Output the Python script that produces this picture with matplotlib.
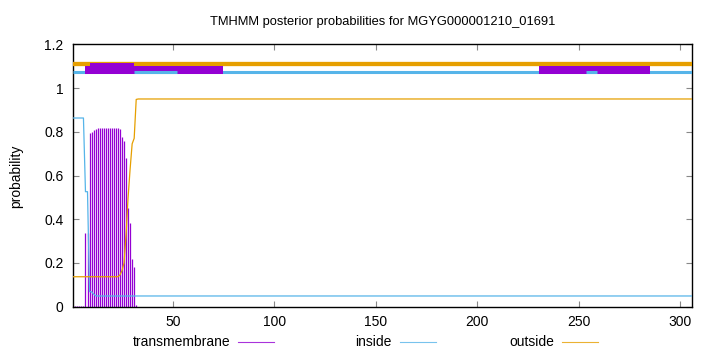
import matplotlib
matplotlib.use("Agg")
import matplotlib.pyplot as plt
from matplotlib.lines import Line2D
import numpy as np

plt.rcParams['font.family'] = ['Liberation Sans', 'DejaVu Sans']

seq_len = 306
title = "TMHMM posterior probabilities for MGYG000001210_01691"

# posterior probabilities, per residue (1-based)
inside_vals = [0.863, 0.863, 0.863, 0.863, 0.863, 0.863, 0.526, 0.526,
               0.069, 0.068, 0.058, 0.050] + [0.049] * (seq_len - 12)
outside_vals = [0.137] * 23 + [0.145, 0.165, 0.20, 0.33, 0.50, 0.63,
                               0.745, 0.77, 0.948] + [0.95] * (seq_len - 32)
tm_vals = [0.003] * 6 + [0.336, 0.336, 0.796, 0.80, 0.81, 0.811] + \
          [0.817] * 11 + [0.811, 0.775, 0.76, 0.68, 0.45, 0.381, 0.218,
                          0.183, 0.008] + [0.0] * (seq_len - 32)

# top topology bars: segments (start, end, low, high)
tm_seg_start = [7, 9, 31, 230.5]
tm_seg_end = [9, 31, 75, 285]
tm_seg_low = [1.066, 1.066, 1.066, 1.066]
tm_seg_high = [1.101, 1.115, 1.101, 1.101]
inside_bar_start = [1]
inside_bar_end = [306]
inside_over_start = [31, 253.5]
inside_over_end = [52, 259]
outside_bar_start = [1]
outside_bar_end = [306]

C_TM = '#9400d3'
C_IN = '#56b4e9'
C_OUT = '#e69f00'

fig = plt.figure(figsize=(7.2, 3.52), dpi=100)
ax = fig.add_axes([0.1018, 0.1287, 0.8597, 0.7454])

res = np.arange(1, seq_len + 1)
n = len(tm_vals)
ax.vlines(res[:n], 0, tm_vals, color=C_TM, lw=0.9, zorder=2)
ax.plot(res, inside_vals, color=C_IN, lw=0.9, zorder=3)
ax.plot(res, outside_vals, color=C_OUT, lw=0.9, zorder=3)

for s, e in zip(outside_bar_start, outside_bar_end):
    ax.plot([s, e], [1.11, 1.11], color=C_OUT, lw=3.1, solid_capstyle='butt', zorder=4)
for s, e in zip(inside_bar_start, inside_bar_end):
    ax.plot([s, e], [1.072, 1.072], color=C_IN, lw=2.2, solid_capstyle='butt', zorder=4)
for s, e, lo, hi in zip(tm_seg_start, tm_seg_end, tm_seg_low, tm_seg_high):
    ax.fill_between([s, e], [lo, lo], [hi, hi], color=C_TM, lw=0, zorder=5)
for s, e in zip(inside_over_start, inside_over_end):
    ax.plot([s, e], [1.072, 1.072], color=C_IN, lw=2.2, solid_capstyle='butt', zorder=6)

ax.set_xlim(1, seq_len)
ax.set_ylim(0, 1.2)
ax.set_xticks([50, 100, 150, 200, 250, 300])
ax.set_yticks([0, 0.2, 0.4, 0.6, 0.8, 1.0, 1.2])
ax.set_yticklabels(['0', '0.2', '0.4', '0.6', '0.8', '1', '1.2'])
ax.tick_params(direction='in', length=4, width=0.8, colors='#888888',
               labelcolor='black', labelsize=10, top=True, right=True)
ax.tick_params(axis='y', pad=7)
ax.tick_params(axis='x', pad=6)
for sp in ax.spines.values():
    sp.set_color('black')
    sp.set_linewidth(1.0)

ax.set_title(title, fontsize=9.3, pad=14)
fig.text(16 / 720, 1 - 176 / 352, 'probability', rotation=90, ha='center',
         va='center', fontsize=10)

# legend row at the bottom
legend_labels = ['transmembrane', 'inside', 'outside']
legend_colors = [C_TM, C_IN, C_OUT]
text_right = [230, 392, 554]
ly = 1 - 342 / 352
for lab, col, tr in zip(legend_labels, legend_colors, text_right):
    fig.text(tr / 720, ly, lab, ha='right', va='center', fontsize=10)
    fig.add_artist(Line2D([(tr + 8) / 720, (tr + 44) / 720], [ly, ly],
                          color=col, lw=0.8, alpha=0.8, transform=fig.transFigure))

fig.savefig('out.png', dpi=100)
